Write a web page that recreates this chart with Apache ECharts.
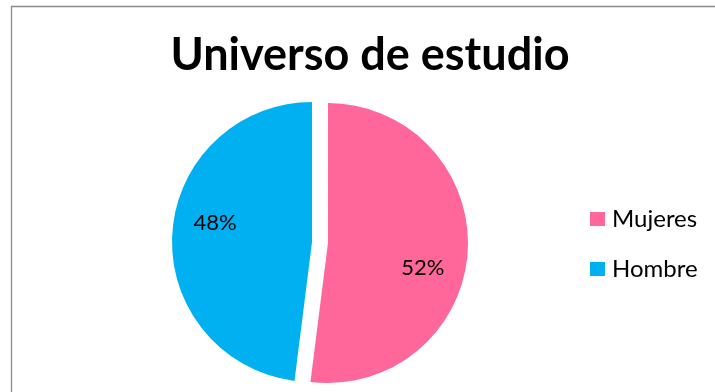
<!DOCTYPE html>
<html>
<head>
<meta charset="utf-8">
<script src="https://cdn.jsdelivr.net/npm/echarts@6/dist/echarts.min.js"></script>
<style>
  html, body { margin: 0; padding: 0; background: #ffffff; }
  #chart { width: 715px; height: 392px; }
</style>
</head>
<body>
<div id="chart"></div>
<script>
// Survey population split by sex
const titleText = 'Universo de estudio';
const categories = ['Mujeres', 'Hombre'];
const shares = [52, 48];
const sliceColors = ['#FF6699', '#00B0F0'];

// Nudges that push the percentage labels towards the rims of their slices
const labelShift = [{ dx: 22, dy: 20 }, { dx: -24, dy: -15 }];

const chart = echarts.init(document.getElementById('chart'));

chart.setOption({
  animation: false,
  backgroundColor: '#ffffff',
  title: {
    text: titleText,
    left: 370,
    top: 33,
    padding: 0,
    textAlign: 'center',
    textStyle: { fontFamily: 'Lato', fontWeight: 'bold', fontSize: 45, color: '#000000' }
  },
  legend: {
    orient: 'vertical',
    left: 590,
    top: 207,
    padding: 0,
    icon: 'rect',
    itemWidth: 15,
    itemHeight: 14,
    itemGap: 26,
    data: categories,
    textStyle: { fontFamily: 'Lato', fontSize: 24, lineHeight: 22, color: '#000000', padding: [0, 0, 0, 2] }
  },
  graphic: [{
    type: 'polyline',
    silent: true,
    shape: { points: [[11.5, 392], [11.5, 6.5], [715, 6.5]] },
    style: { stroke: '#8a8a8a', lineWidth: 1.3, fill: null }
  }],
  series: [{
    type: 'pie',
    center: [320, 242.5],
    radius: 140,
    startAngle: 90,
    clockwise: true,
    selectedMode: 'multiple',
    selectedOffset: 8,
    avoidLabelOverlap: false,
    label: {
      show: true,
      position: 'inside',
      formatter: '{d}%',
      fontFamily: 'Lato',
      fontSize: 22,
      color: '#000000'
    },
    labelLine: { show: false },
    labelLayout: function (p) { return labelShift[p.dataIndex]; },
    emphasis: { disabled: true },
    select: { itemStyle: { borderWidth: 0 } },
    data: categories.map(function (name, i) {
      return { name: name, value: shares[i], selected: true, itemStyle: { color: sliceColors[i] } };
    })
  }]
});
</script>
</body>
</html>
